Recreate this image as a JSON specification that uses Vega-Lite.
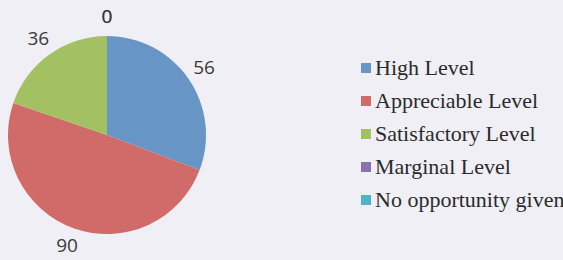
{
  "$schema": "https://vega.github.io/schema/vega-lite/v6.json",
  "autosize": {"type": "none"},
  "width": 214,
  "height": 250,
  "padding": {"left": 0, "top": 10, "right": 349, "bottom": 0},
  "background": "#efeff5",
  "data": {
    "values": [
      {"level": "High Level", "count": 56, "rank": 1},
      {"level": "Appreciable Level", "count": 90, "rank": 2},
      {"level": "Satisfactory Level", "count": 36, "rank": 3},
      {"level": "Marginal Level", "count": 0, "rank": 4},
      {"level": "No opportunity given", "count": 0, "rank": 5}
    ]
  },
  "encoding": {
    "theta": {"field": "count", "type": "quantitative", "stack": true},
    "order": {"field": "rank", "type": "quantitative"},
    "color": {
      "field": "level",
      "type": "nominal",
      "scale": {
        "domain": ["High Level", "Appreciable Level", "Satisfactory Level", "Marginal Level", "No opportunity given"],
        "range": ["#6796c6", "#d06b6a", "#a3c062", "#8a72ae", "#50b3c8"]
      },
      "legend": {
        "orient": "none",
        "legendX": 355,
        "legendY": 47,
        "title": null,
        "symbolType": "square",
        "symbolSize": 100,
        "symbolStrokeWidth": 0,
        "labelFont": "Liberation Serif",
        "labelFontSize": 22,
        "labelColor": "#2b2b2b",
        "labelOffset": -2,
        "labelLimit": 400,
        "rowPadding": 11,
        "padding": 0
      }
    }
  },
  "layer": [
    {"mark": {"type": "arc", "outerRadius": 99}},
    {
      "mark": {"type": "text", "radius": 118, "font": "Open Sans", "fontSize": 19, "color": "#3a3a3a"},
      "encoding": {"text": {"field": "count", "type": "quantitative"}, "color": {"value": "#3a3a3a"}}
    }
  ],
  "config": {"view": {"stroke": null}}
}
